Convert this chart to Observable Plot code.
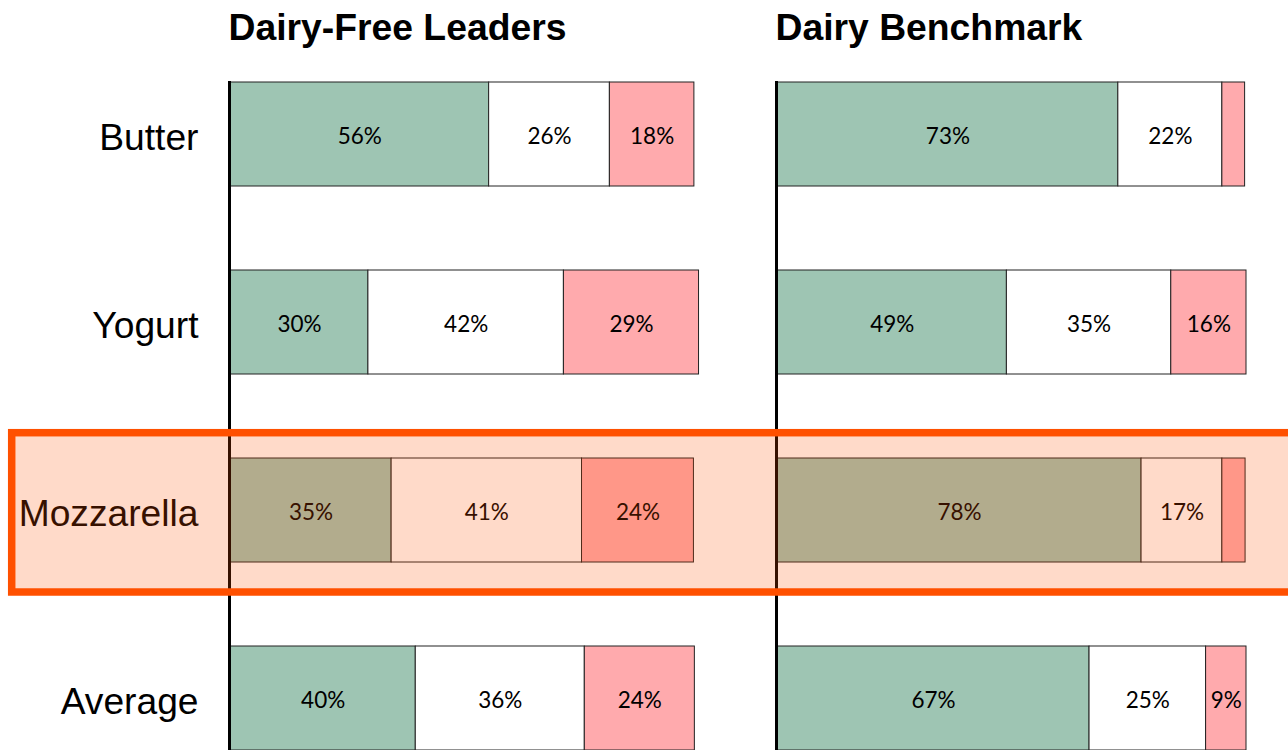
<!DOCTYPE html>
<html>
<head>
<meta charset="utf-8">
<script src="https://cdn.jsdelivr.net/npm/d3@7"></script>
<script src="https://cdn.jsdelivr.net/npm/@observablehq/plot@0.6"></script>
<style>
  html, body { margin: 0; padding: 0; background: #fff; overflow: hidden; }
  #chart { width: 1288px; height: 750px; overflow: hidden; }
</style>
</head>
<body>
<div id="chart"></div>
<script>
// ---- data ----
const categories = ["Butter", "Yogurt", "Mozzarella", "Average"];
const panels = ["Dairy-Free Leaders", "Dairy Benchmark"];
const segments = ["Positive", "Neutral", "Negative"];
const segmentColors = ["#9EC5B3", "#FFFFFF", "#FFAAAD"];

const dairyFreePositive = [55.7, 29.7, 34.7, 39.9];
const dairyFreeNeutral  = [26.0, 42.1, 41.0, 36.4];
const dairyFreeNegative = [18.2, 29.1, 24.1, 23.7];

const dairyPositive = [73.4, 49.4, 78.4, 67.2];
const dairyNeutral  = [22.4, 35.4, 17.4, 25.1];
const dairyNegative = [4.9, 16.2, 5.0, 8.7];

const highlightCategory = "Mozzarella";
const minLabelValue = 6;

// ---- long table ----
const series = [
  [panels[0], [dairyFreePositive, dairyFreeNeutral, dairyFreeNegative]],
  [panels[1], [dairyPositive, dairyNeutral, dairyNegative]]
];
const rows = [];
for (const [panel, vals] of series) {
  categories.forEach((cat, i) => {
    segments.forEach((seg, j) => {
      rows.push({panel, category: cat, segment: seg, value: vals[j][i]});
    });
  });
}

const labelFont = "Lato, 'Liberation Sans', sans-serif";
const headFont = "'Liberation Sans', Arial, sans-serif";

const plot = Plot.plot({
  width: 1288,
  height: 788,
  marginLeft: 230,
  marginRight: 42,
  marginTop: 44,
  marginBottom: 0,
  style: {fontFamily: headFont, background: "white"},
  fx: {domain: panels, paddingInner: 0.1426, paddingOuter: 0, axis: null, label: null},
  x: {domain: [0, 101], axis: null},
  y: {domain: categories, paddingInner: 0.4477, paddingOuter: 0.2, axis: null, label: null},
  color: {domain: segments, range: segmentColors},
  marks: [
    Plot.barX(rows, Plot.stackX({
      x: "value", y: "category", fx: "panel", fill: "segment",
      stroke: "#222", strokeWidth: 1
    })),
    Plot.text(rows, Plot.stackX({
      x: "value", y: "category", fx: "panel", z: "segment",
      text: d => d.value < minLabelValue ? null : `${Math.round(d.value)}%`,
      fontSize: 22.5, fontFamily: labelFont, fill: "#000", dy: 2.5
    })),
    Plot.ruleX([0], {stroke: "black", strokeWidth: 3, insetTop: 37, dx: -1}),
    Plot.text(panels, {
      fx: d => d, text: d => d, frameAnchor: "top-left", textAnchor: "start",
      lineAnchor: "bottom", dy: -4.5, dx: -2, fontSize: 37.3, fontWeight: "bold",
      fontFamily: headFont, fill: "black"
    }),
    Plot.text(categories, {
      fx: () => panels[0], y: d => d, text: d => d, frameAnchor: "left",
      textAnchor: "end", dx: -32, dy: 4, fontSize: 37.2, fontFamily: headFont, fill: "black"
    })
  ]
});

// highlight band positioned from the plot's own y scale
const yScale = plot.scale("y");
const bandStart = yScale.apply(highlightCategory);
const bandW = yScale.bandwidth;
const hlTop = bandStart - 25.3;
const hlBottom = bandStart + bandW + 30;
const ns = "http://www.w3.org/2000/svg";
const hl = document.createElementNS(ns, "rect");
hl.setAttribute("x", 11.7);
hl.setAttribute("y", hlTop);
hl.setAttribute("width", 1300);
hl.setAttribute("height", hlBottom - hlTop);
hl.setAttribute("fill", "#FF5000");
hl.setAttribute("fill-opacity", 0.21);
hl.setAttribute("stroke", "#FF5000");
hl.setAttribute("stroke-width", 7.5);
plot.appendChild(hl);

document.getElementById("chart").appendChild(plot);
</script>
</body>
</html>
